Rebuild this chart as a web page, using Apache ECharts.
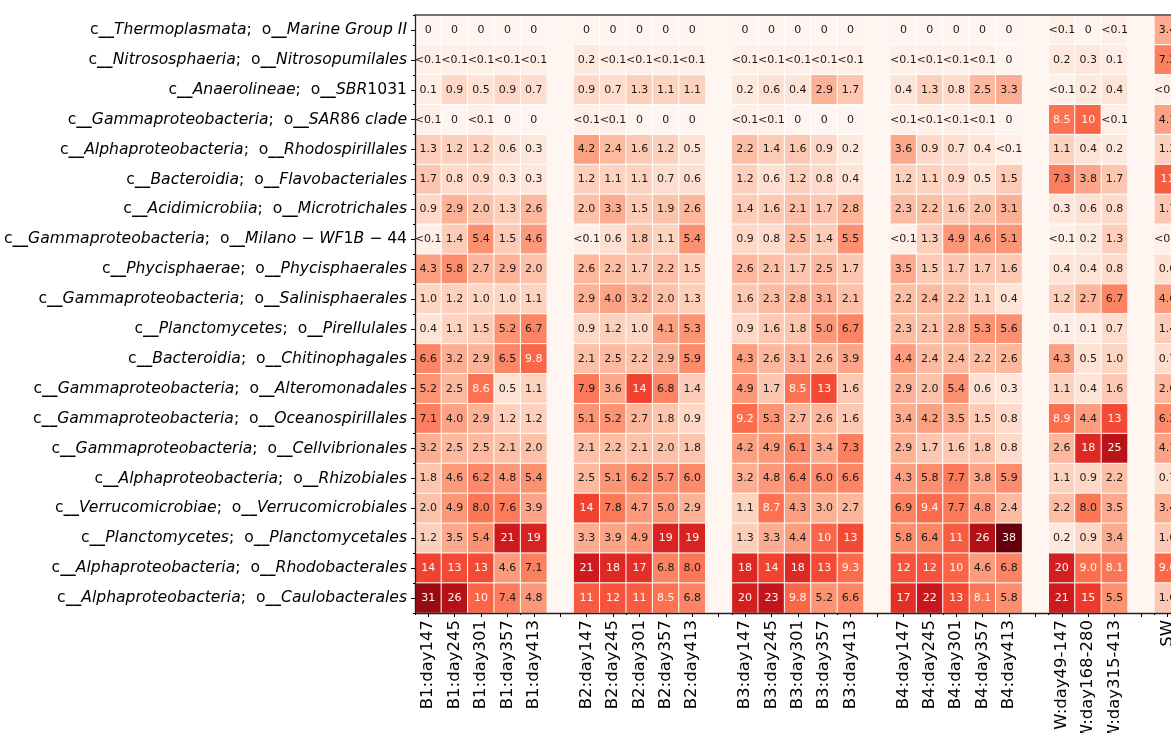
<!DOCTYPE html>
<html>
<head>
<meta charset="utf-8">
<script src="https://cdn.jsdelivr.net/npm/echarts@6/dist/echarts.min.js"></script>
<style>html,body{margin:0;padding:0;background:#fff}#c{width:1171px;height:733px}</style>
</head>
<body>
<div id="c"></div>
<script>
// ---------- data ----------
const rowClasses = ['Thermoplasmata','Nitrososphaeria','Anaerolineae','Gammaproteobacteria','Alphaproteobacteria','Bacteroidia','Acidimicrobiia','Gammaproteobacteria','Phycisphaerae','Gammaproteobacteria','Planctomycetes','Bacteroidia','Gammaproteobacteria','Gammaproteobacteria','Gammaproteobacteria','Alphaproteobacteria','Verrucomicrobiae','Planctomycetes','Alphaproteobacteria','Alphaproteobacteria'];
const rowOrders = ['Marine Group II','Nitrosopumilales','SBR1031','SAR86 clade','Rhodospirillales','Flavobacteriales','Microtrichales','Milano − WF1B − 44','Phycisphaerales','Salinisphaerales','Pirellulales','Chitinophagales','Alteromonadales','Oceanospirillales','Cellvibrionales','Rhizobiales','Verrucomicrobiales','Planctomycetales','Rhodobacterales','Caulobacterales'];

const labelsB1 = ['B1:day147','B1:day245','B1:day301','B1:day357','B1:day413'];
const labelsB2 = ['B2:day147','B2:day245','B2:day301','B2:day357','B2:day413'];
const labelsB3 = ['B3:day147','B3:day245','B3:day301','B3:day357','B3:day413'];
const labelsB4 = ['B4:day147','B4:day245','B4:day301','B4:day357','B4:day413'];
const labelsW  = ['W:day49-147','W:day168-280','W:day315-413'];
const labelsSW = ['SW'];

const L = 0.05; // shown as "<0.1"
const valuesB1 = [
 [0,0,0,0,0],[L,L,L,L,L],[0.1,0.9,0.5,0.9,0.7],[L,0,L,0,0],[1.3,1.2,1.2,0.6,0.3],
 [1.7,0.8,0.9,0.3,0.3],[0.9,2.9,2.0,1.3,2.6],[L,1.4,5.4,1.5,4.6],[4.3,5.8,2.7,2.9,2.0],[1.0,1.2,1.0,1.0,1.1],
 [0.4,1.1,1.5,5.2,6.7],[6.6,3.2,2.9,6.5,9.8],[5.2,2.5,8.6,0.5,1.1],[7.1,4.0,2.9,1.2,1.2],[3.2,2.5,2.5,2.1,2.0],
 [1.8,4.6,6.2,4.8,5.4],[2.0,4.9,8.0,7.6,3.9],[1.2,3.5,5.4,21,19],[14,13,13,4.6,7.1],[31,26,10,7.4,4.8]];
const valuesB2 = [
 [0,0,0,0,0],[0.2,L,L,L,L],[0.9,0.7,1.3,1.1,1.1],[L,L,0,0,0],[4.2,2.4,1.6,1.2,0.5],
 [1.2,1.1,1.1,0.7,0.6],[2.0,3.3,1.5,1.9,2.6],[L,0.6,1.8,1.1,5.4],[2.6,2.2,1.7,2.2,1.5],[2.9,4.0,3.2,2.0,1.3],
 [0.9,1.2,1.0,4.1,5.3],[2.1,2.5,2.2,2.9,5.9],[7.9,3.6,14,6.8,1.4],[5.1,5.2,2.7,1.8,0.9],[2.1,2.2,2.1,2.0,1.8],
 [2.5,5.1,6.2,5.7,6.0],[14,7.8,4.7,5.0,2.9],[3.3,3.9,4.9,19,19],[21,18,17,6.8,8.0],[11,12,11,8.5,6.8]];
const valuesB3 = [
 [0,0,0,0,0],[L,L,L,L,L],[0.2,0.6,0.4,2.9,1.7],[L,L,0,0,0],[2.2,1.4,1.6,0.9,0.2],
 [1.2,0.6,1.2,0.8,0.4],[1.4,1.6,2.1,1.7,2.8],[0.9,0.8,2.5,1.4,5.5],[2.6,2.1,1.7,2.5,1.7],[1.6,2.3,2.8,3.1,2.1],
 [0.9,1.6,1.8,5.0,6.7],[4.3,2.6,3.1,2.6,3.9],[4.9,1.7,8.5,13,1.6],[9.2,5.3,2.7,2.6,1.6],[4.2,4.9,6.1,3.4,7.3],
 [3.2,4.8,6.4,6.0,6.6],[1.1,8.7,4.3,3.0,2.7],[1.3,3.3,4.4,10,13],[18,14,18,13,9.3],[20,23,9.8,5.2,6.6]];
const valuesB4 = [
 [0,0,0,0,0],[L,L,L,L,0],[0.4,1.3,0.8,2.5,3.3],[L,L,L,L,0],[3.6,0.9,0.7,0.4,L],
 [1.2,1.1,0.9,0.5,1.5],[2.3,2.2,1.6,2.0,3.1],[L,1.3,4.9,4.6,5.1],[3.5,1.5,1.7,1.7,1.6],[2.2,2.4,2.2,1.1,0.4],
 [2.3,2.1,2.8,5.3,5.6],[4.4,2.4,2.4,2.2,2.6],[2.9,2.0,5.4,0.6,0.3],[3.4,4.2,3.5,1.5,0.8],[2.9,1.7,1.6,1.8,0.8],
 [4.3,5.8,7.7,3.8,5.9],[6.9,9.4,7.7,4.8,2.4],[5.8,6.4,11,26,38],[12,12,10,4.6,6.8],[17,22,13,8.1,5.8]];
const valuesW = [
 [L,0,L],[0.2,0.3,0.1],[L,0.2,0.4],[8.5,10,L],[1.1,0.4,0.2],
 [7.3,3.8,1.7],[0.3,0.6,0.8],[L,0.2,1.3],[0.4,0.4,0.8],[1.2,2.7,6.7],
 [0.1,0.1,0.7],[4.3,0.5,1.0],[1.1,0.4,1.6],[8.9,4.4,13],[2.6,18,25],
 [1.1,0.9,2.2],[2.2,8.0,3.5],[0.2,0.9,3.4],[20,9.0,8.1],[21,15,5.5]];
const valuesSW = [
 [3.4],[7.2],[L],[4.1],[1.2],[11],[1.7],[L],[0.6],[4.6],
 [1.4],[0.7],[2.6],[6.2],[4.1],[0.7],[3.4],[1.6],[9.6],[1.6]];

const VMAX = 38;

// ---------- build ----------
const groups = [[labelsB1,valuesB1],[labelsB2,valuesB2],[labelsB3,valuesB3],[labelsB4,valuesB4],[labelsW,valuesW],[labelsSW,valuesSW]];
const xCats = [];
const cells = [];
const gapCells = [];
groups.forEach((g, gi) => {
  const [labs, vals] = g;
  labs.forEach((lab, j) => {
    const x = xCats.length;
    xCats.push(lab);
    for (let r = 0; r < vals.length; r++) {
      const v = vals[r][j];
      cells.push({
        value: [x, r, Math.sqrt(v / VMAX), v],
        label: { color: v > 8.05 ? '#fff5f0' : '#1a1a1a' }
      });
    }
  });
  if (gi < groups.length - 1) {
    const x = xCats.length;
    xCats.push('');
    for (let r = 0; r < rowOrders.length; r++) gapCells.push([x, r, 0]);
  }
});
const yCats = rowOrders.map((o, i) => i);

function fmt(v) {
  if (v === 0) return '0';
  if (v < 0.1) return '<0.1';
  if (v >= 10) return String(Math.round(v));
  return v.toFixed(1);
}
function richName(s) {
  return s.split(/([0-9]+| − )/).filter(t => t).map(t =>
    (/^[0-9]+$/.test(t) || t.indexOf('−') >= 0) ? '{n|' + t + '}' : '{i|' + t + '}').join('');
}
function rowLabel(i) {
  return '{n|c}{u|__}' + richName(rowClasses[i]) + '{n|;  o}{u|__}' + richName(rowOrders[i]);
}

const FONT = 'DejaVu Sans';
const YFS = 15.6;
const COLW = 26.4;
const LEFT = 415;
const gridRight = 1171 - (LEFT + COLW * xCats.length);
const spine = { show: true, onZero: false, lineStyle: { color: '#222', width: 1.3 } };

const chart = echarts.init(document.getElementById('c'), null, { renderer: 'canvas' });
chart.setOption({
  animation: false,
  backgroundColor: '#ffffff',
  grid: {
    left: LEFT, right: gridRight, top: 15, bottom: 120,
    show: false, containLabel: false, outerBoundsMode: 'none'
  },
  xAxis: [{
    type: 'category', data: xCats, position: 'bottom', z: 10,
    axisLine: spine,
    axisTick: { show: true, alignWithLabel: true, length: 4, lineStyle: { color: '#000' } },
    axisLabel: { rotate: 90, margin: 7, fontFamily: FONT, fontSize: 16.5, color: '#000', interval: 0 },
    splitLine: { show: false }
  }, {
    type: 'category', data: xCats, position: 'bottom', z: 10,
    axisLine: { show: false },
    axisTick: { show: true, alignWithLabel: false, length: 2, lineStyle: { color: '#000' } },
    axisLabel: { show: false }, splitLine: { show: false }
  }, {
    type: 'category', data: xCats, position: 'top', z: 10,
    axisLine: { show: true, onZero: false, lineStyle: { color: '#444', width: 1.6 } },
    axisTick: { show: false }, axisLabel: { show: false }, splitLine: { show: false }
  }],
  yAxis: [{
    type: 'category', data: yCats, inverse: true, position: 'left', z: 10,
    axisLine: spine,
    axisTick: { show: true, alignWithLabel: true, length: 4, lineStyle: { color: '#000' } },
    axisLabel: {
      margin: 8, interval: 0, formatter: (v, i) => rowLabel(i), align: 'right',
      rich: {
        n: { fontFamily: FONT, fontSize: YFS, color: '#000' },
        u: { fontFamily: FONT, fontSize: YFS, color: '#000', fontWeight: 'bold' },
        i: { fontFamily: FONT, fontSize: YFS, color: '#000', fontStyle: 'italic' }
      }
    },
    splitLine: { show: false }
  }, {
    type: 'category', data: yCats, inverse: true, position: 'left', z: 10,
    axisLine: { show: false },
    axisTick: { show: true, alignWithLabel: false, length: 2, lineStyle: { color: '#000' } },
    axisLabel: { show: false }, splitLine: { show: false }
  }],
  visualMap: {
    show: false, type: 'continuous', dimension: 2, seriesIndex: 0,
    min: 0, max: 1,
    inRange: { color: ['#fff5f0','#fee0d2','#fcbba1','#fc9272','#fb6a4a','#ef3b2c','#cb181d','#a50f15','#67000d'] }
  },
  series: [{
    type: 'heatmap', xAxisIndex: 0, yAxisIndex: 0,
    data: cells,
    itemStyle: { borderColor: '#ffffff', borderWidth: 1 },
    label: {
      show: true, fontFamily: FONT, fontSize: 11,
      formatter: p => fmt(p.value[3])
    },
    emphasis: { disabled: true }
  }, {
    type: 'heatmap', xAxisIndex: 0, yAxisIndex: 0,
    data: gapCells,
    itemStyle: { color: '#fff6f2', borderWidth: 0 },
    label: { show: false },
    emphasis: { disabled: true }
  }]
});
</script>
</body>
</html>
